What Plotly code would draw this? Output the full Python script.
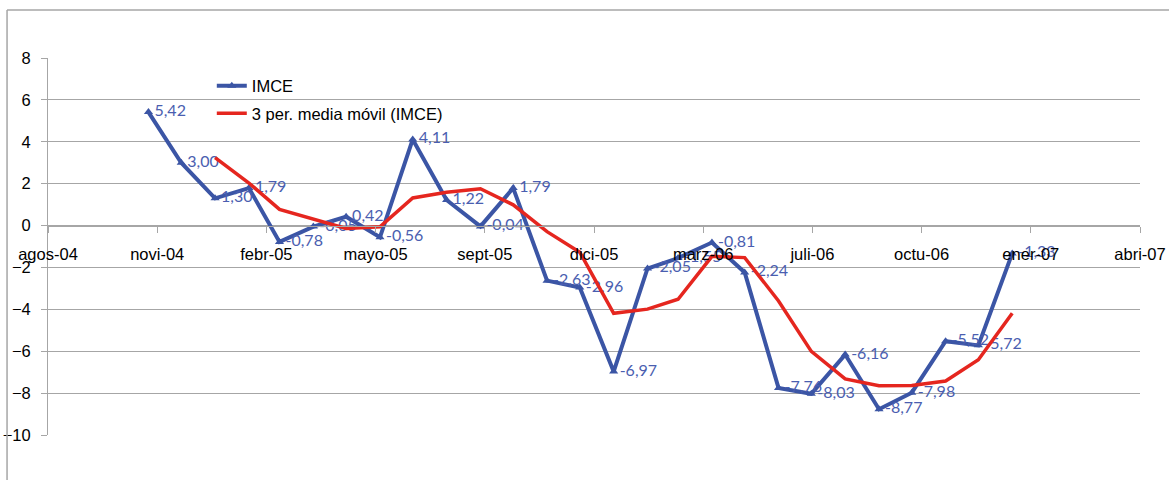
import plotly.graph_objects as go

# monthly IMCE values (Nov 2004 - Jan 2007)
months = [
    "2004-11-01", "2004-12-01", "2005-01-01", "2005-02-01", "2005-03-01", "2005-04-01",
    "2005-05-01", "2005-06-01", "2005-07-01", "2005-08-01", "2005-09-01", "2005-10-01",
    "2005-11-01", "2005-12-01", "2006-01-01", "2006-02-01", "2006-03-01", "2006-04-01",
    "2006-05-01", "2006-06-01", "2006-07-01", "2006-08-01", "2006-09-01", "2006-10-01",
    "2006-11-01", "2006-12-01", "2007-01-01",
]
imce = [
    5.42, 3.00, 1.30, 1.79, -0.78, -0.05, 0.42, -0.56, 4.11, 1.22, -0.04, 1.79,
    -2.63, -2.96, -6.97, -2.05, -1.55, -0.81, -2.24, -7.76, -8.03, -6.16, -8.77,
    -7.98, -5.52, -5.72, -1.33,
]
# 3-period moving average, starts at the 3rd month
ma_months = months[2:]
ma_values = [
    3.24, 2.03, 0.77, 0.32, -0.14, -0.06, 1.32, 1.59, 1.76, 0.99, -0.29, -1.27,
    -4.19, -3.99, -3.52, -1.47, -1.53, -3.60, -6.01, -7.32, -7.65, -7.64, -7.42,
    -6.41, -4.19,
]

tick_dates = [
    "2004-08-01", "2004-11-09", "2005-02-17", "2005-05-28", "2005-09-05", "2005-12-14",
    "2006-03-24", "2006-07-02", "2006-10-10", "2007-01-18", "2007-04-28",
]
tick_labels = [
    "agos-04", "novi-04", "febr-05", "mayo-05", "sept-05", "dici-05",
    "marz-06", "juli-06", "octu-06", "ener-07", "abri-07",
]

BLUE = "#3B55A5"
RED = "#E5261F"
GRID = "#A6A6A6"

labels = [f"{v:.2f}".replace(".", ",") for v in imce]

fig = go.Figure()
fig.add_trace(go.Scatter(
    x=months, y=imce, name="IMCE", mode="lines+markers+text",
    line=dict(color=BLUE, width=4),
    marker=dict(symbol="triangle-up", size=8, color=BLUE),
    text=labels, textposition="middle right",
    textfont=dict(family="Lato", size=16, color="#4A5EB0"),
    legendgroup="a",
))
fig.add_trace(go.Scatter(
    x=ma_months, y=ma_values, name="3 per. media móvil (IMCE)", mode="lines",
    line=dict(color=RED, width=3.5),
    legendgroup="b",
))

fig.update_layout(
    width=1169, height=480,
    margin=dict(l=48, r=29, t=58, b=45),
    paper_bgcolor="white", plot_bgcolor="white",
    font=dict(family="Liberation Sans, Arial", size=16.5, color="black"),
    showlegend=True,
    legend=dict(
        x=0.15, y=0.972, xanchor="left", yanchor="top",
        bgcolor="rgba(0,0,0,0)", font=dict(size=16.5),
        tracegroupgap=3, itemwidth=30,
    ),
    xaxis=dict(
        type="date", range=[tick_dates[0], tick_dates[-1]],
        tickmode="array", tickvals=tick_dates, ticktext=tick_labels,
        anchor="free", position=10 / 18, automargin=False,
        showline=True, linecolor=GRID, linewidth=1,
        ticks="outside", ticklen=6, tickcolor=GRID,
        showgrid=False, zeroline=False,
        ticklabelstandoff=8,
    ),
    yaxis=dict(
        range=[-10, 8], dtick=2, tick0=0, automargin=False,
        showline=True, linecolor=GRID, linewidth=1,
        ticks="outside", ticklen=6, tickcolor=GRID,
        showgrid=True, gridcolor=GRID, gridwidth=1,
        zeroline=False, ticklabelstandoff=7,
    ),
)

# chart-area frame (left and top edges visible in the picture)
fig.add_shape(type="line", xref="paper", yref="paper",
              x0=-0.0375, x1=-0.0375, y0=-0.2, y1=1.1273,
              line=dict(color=GRID, width=1.5))
fig.add_shape(type="line", xref="paper", yref="paper",
              x0=-0.0375, x1=1.05, y0=1.1273, y1=1.1273,
              line=dict(color=GRID, width=1.5))

# drop the default page margin so the figure sits at the window's corner
fig.write_html("out.html", config={"displayModeBar": False},
               post_script="document.body.style.margin='0';")
